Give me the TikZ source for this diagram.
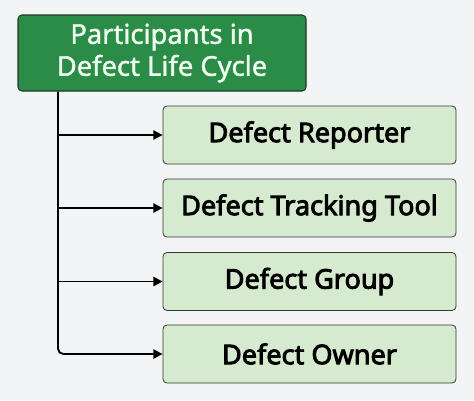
\documentclass[tikz,border=0pt]{standalone}
\usepackage{fontspec}
\setmainfont{Noto Sans}
\newfontfamily\childfont{Noto Sans}[FakeBold=3.2]
\newfontfamily\titlefont{Noto Sans}[FakeBold=1.4]
\usetikzlibrary{arrows.meta}
\definecolor{bg}{HTML}{F3F4F6}
\definecolor{topfill}{HTML}{2B8C47}
\definecolor{topedge}{HTML}{1E3A28}
\definecolor{topfg}{HTML}{EFFFEF}
\definecolor{childfill}{HTML}{D5EACF}
\definecolor{childedge}{HTML}{303830}
\tikzset{
  px/.style={x=0.75pt,y=-0.75pt},
  topbox/.style={draw=topedge,line width=0.8pt,fill=topfill,rounded corners=3pt,text=topfg,
    minimum width=216pt,minimum height=57pt,align=center,inner sep=0pt,
    font=\titlefont\fontsize{20.5}{24}\selectfont},
  childbox/.style={draw=childedge,line width=0.6pt,fill=childfill,rounded corners=3pt,text=black,
    minimum width=219.75pt,minimum height=43.5pt,inner sep=0pt,
    font=\childfont\fontsize{20.3}{22}\selectfont},
  conn/.style={line width=1.4pt,-{Triangle[length=7pt,width=7pt]}}
}
\begin{document}
\begin{tikzpicture}[px]
\fill[bg] (0,0) rectangle (474,400);
\useasboundingbox (0,0) rectangle (474,400);
\node[topbox] (top) at (162,53) {Participants in\\Defect Life Cycle};
\node[childbox] (c1) at (309.5,135) {Defect Reporter};
\node[childbox] (c2) at (309.5,208) {Defect Tracking Tool};
\node[childbox] (c3) at (309.5,281.5) {Defect Group};
\node[childbox] (c4) at (309.5,354) {Defect Owner};
\coordinate (t) at (58,91);
\draw[conn,rounded corners=4pt] (top.south -| t) |- (c4.west);
\draw[conn] (top.south -| t) |- (c1.west);
\draw[conn] (top.south -| t) |- (c2.west);
\draw[conn] (top.south -| t) |- (c3.west);
\end{tikzpicture}
\end{document}
